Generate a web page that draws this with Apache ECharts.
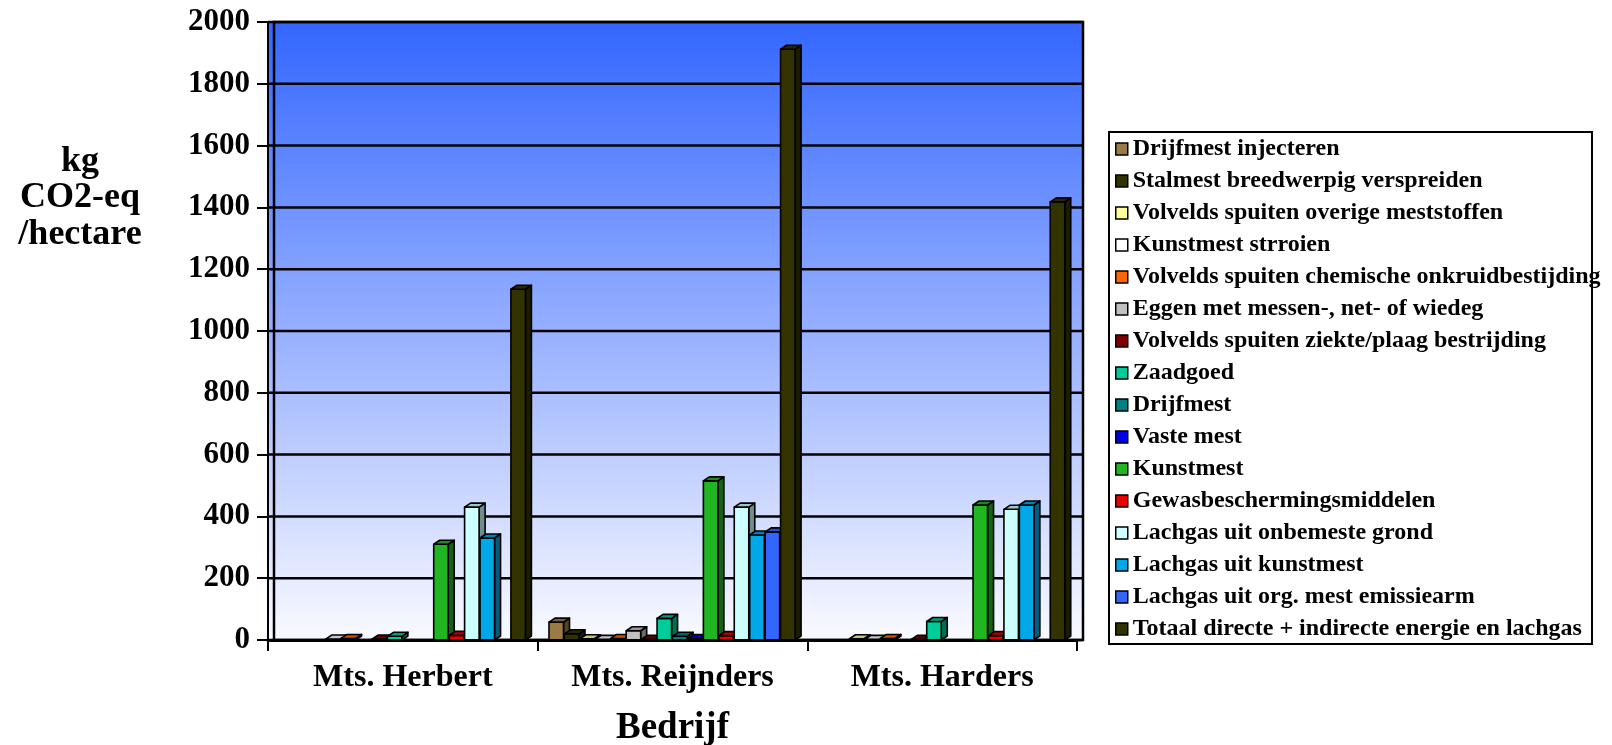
<!DOCTYPE html>
<html>
<head>
<meta charset="utf-8">
<script src="https://cdn.jsdelivr.net/npm/echarts@6/dist/echarts.min.js"></script>
<style>
  html, body { margin: 0; padding: 0; background: #ffffff; }
  #chart { width: 1612px; height: 745px; }
</style>
</head>
<body>
<div id="chart"></div>
<script>
// Farms on the category axis
const categories = ['Mts. Herbert', 'Mts. Reijnders', 'Mts. Harders'];

// Emission items (legend order = drawing order inside each farm)
const seriesNames = [
  'Drijfmest injecteren',
  'Stalmest breedwerpig verspreiden',
  'Volvelds spuiten overige meststoffen',
  'Kunstmest strroien',
  'Volvelds spuiten chemische onkruidbestijding',
  'Eggen met messen-, net- of wiedeg',
  'Volvelds spuiten ziekte/plaag bestrijding',
  'Zaadgoed',
  'Drijfmest',
  'Vaste mest',
  'Kunstmest',
  'Gewasbeschermingsmiddelen',
  'Lachgas uit onbemeste grond',
  'Lachgas uit kunstmest',
  'Lachgas uit org. mest emissiearm',
  'Totaal directe + indirecte energie en lachgas'
];

const seriesColors = [
  '#9A7A45', '#333300', '#FFFF99', '#FFFFFF', '#FF6600', '#C0C0C0',
  '#800000', '#00CC99', '#008080', '#0000EE', '#21B521', '#EE0000',
  '#CCFFFF', '#00A8E8', '#3366FF', '#333300'
];

// kg CO2-eq per hectare: [Herbert, Reijnders, Harders]
const drijfmestInjecteren   = [0, 58, 0];
const stalmestBreedwerpig   = [0, 20, 0];
const volveldsOverige       = [0, 4, 4];
const kunstmestStrooien     = [3, 2, 2];
const volveldsChemische     = [5, 5, 5];
const eggenWiedeg           = [0, 30, 0];
const volveldsZiekte        = [3, 2, 2];
const zaadgoed              = [12, 70, 60];
const drijfmest             = [0, 12, 0];
const vasteMest             = [0, 5, 0];
const kunstmest             = [310, 515, 437];
const gewasbescherming      = [15, 14, 14];
const lachgasOnbemeste      = [430, 430, 423];
const lachgasKunstmest      = [330, 340, 437];
const lachgasOrgMest        = [0, 350, 0];
const totaalEnergieLachgas  = [1135, 1912, 1418];

const seriesValues = [
  drijfmestInjecteren, stalmestBreedwerpig, volveldsOverige, kunstmestStrooien,
  volveldsChemische, eggenWiedeg, volveldsZiekte, zaadgoed, drijfmest, vasteMest,
  kunstmest, gewasbescherming, lachgasOnbemeste, lachgasKunstmest, lachgasOrgMest,
  totaalEnergieLachgas
];

// Value axis ticks
const yMin = 0;
const yMax = 2000;
const yInterval = 200;

const FONT = '"Liberation Serif", "Times New Roman", serif';
const N = seriesNames.length;
const SIDE_GAP = 0.042;     // empty share of a category on each side
const FRONT_RATIO = 0.94;   // front face width relative to a series slot
const BAR_DX = 6, BAR_DY = -4;   // depth of the 3D columns
const WALL_DX = 6, WALL_DY = 0;  // depth of the back wall

// Legend frame
const LEGEND_BOX = { x: 1109, y: 132, width: 483, height: 512 };

function shade(hex, f) {
  const c = echarts.color.parse(hex);
  return 'rgb(' + Math.round(c[0] * f) + ',' + Math.round(c[1] * f) + ',' + Math.round(c[2] * f) + ')';
}

// Back wall, side wall, floor and gridlines
function renderWall(params, api) {
  const band = api.size([1, 0])[0];
  const left = api.coord([0, 0])[0] - band / 2;
  const right = api.coord([categories.length - 1, 0])[0] + band / 2;
  const yBottom = api.coord([0, yMin])[1];
  const yTop = api.coord([0, yMax])[1];
  const grad = new echarts.graphic.LinearGradient(0, 0, 0, 1, [
    { offset: 0, color: '#3366FF' },
    { offset: 1, color: '#FAFAFF' }
  ]);
  const children = [];
  // side wall
  children.push({
    type: 'polygon',
    shape: { points: [[left, yTop], [left + WALL_DX, yTop + WALL_DY], [left + WALL_DX, yBottom + WALL_DY], [left, yBottom]] },
    style: { fill: grad, stroke: '#000', lineWidth: 1.5 }
  });
  // back wall
  children.push({
    type: 'rect',
    shape: { x: left + WALL_DX, y: yTop + WALL_DY, width: right - left, height: yBottom - yTop },
    style: { fill: grad, stroke: '#000', lineWidth: 2.5 }
  });
  // gridlines
  for (let v = yMin; v <= yMax; v += yInterval) {
    const y = api.coord([0, v])[1];
    children.push({
      type: 'polyline',
      shape: { points: [[left, y], [left + WALL_DX, y + WALL_DY], [right + WALL_DX, y + WALL_DY]] },
      style: { stroke: '#000', lineWidth: 2.5, fill: null }
    });
  }
  // floor
  children.push({
    type: 'polygon',
    shape: { points: [[left, yBottom], [right, yBottom], [right + WALL_DX, yBottom + WALL_DY], [left + WALL_DX, yBottom + WALL_DY]] },
    style: { fill: '#FFFFFF', stroke: '#000', lineWidth: 2 }
  });
  return { type: 'group', children: children };
}

function makeBarRenderer(si, color) {
  const topColor = shade(color, 0.78);
  const sideColor = shade(color, 0.55);
  return function (params, api) {
    const cat = api.value(0);
    const val = api.value(1);
    if (!val) return null;
    const band = api.size([1, 0])[0];
    const base = api.coord([cat, 0]);
    const top = api.coord([cat, val]);
    const slot = band * (1 - 2 * SIDE_GAP) / N;
    const x0 = base[0] - band / 2 + band * SIDE_GAP + si * slot;
    const w = slot * FRONT_RATIO;
    const yb = base[1];
    const yt = top[1];
    const stroke = { stroke: '#000', lineWidth: 1.6, lineJoin: 'round' };
    return {
      type: 'group',
      children: [
        {
          type: 'polygon',
          shape: { points: [[x0 + w, yt], [x0 + w + BAR_DX, yt + BAR_DY], [x0 + w + BAR_DX, yb + BAR_DY], [x0 + w, yb]] },
          style: Object.assign({ fill: sideColor }, stroke)
        },
        {
          type: 'rect',
          shape: { x: x0, y: yt, width: w, height: yb - yt },
          style: Object.assign({ fill: color }, stroke)
        },
        {
          type: 'polygon',
          shape: { points: [[x0, yt], [x0 + w, yt], [x0 + w + BAR_DX, yt + BAR_DY], [x0 + BAR_DX, yt + BAR_DY]] },
          style: Object.assign({ fill: topColor }, stroke)
        }
      ]
    };
  };
}

const series = [{
  name: 'wall',
  type: 'custom',
  silent: true,
  z: 1,
  renderItem: renderWall,
  data: [[0, 0]]
}];

seriesNames.forEach(function (name, si) {
  series.push({
    name: name,
    type: 'custom',
    z: 2,
    itemStyle: { color: seriesColors[si] },
    renderItem: makeBarRenderer(si, seriesColors[si]),
    data: seriesValues[si].map(function (v, ci) { return [ci, v]; })
  });
});

const chart = echarts.init(document.getElementById('chart'), null, { renderer: 'canvas' });
chart.setOption({
  animation: false,
  backgroundColor: '#FFFFFF',
  textStyle: { fontFamily: FONT },
  grid: { left: 268, right: 535, top: 22, bottom: 105, containLabel: false, outerBoundsMode: 'none' },
  graphic: [
    {
      type: 'text',
      x: 80,
      y: 143,
      style: {
        text: 'kg\nCO2-eq\n/hectare',
        fontFamily: FONT,
        fontWeight: 'bold',
        fontSize: 36,
        lineHeight: 36.5,
        fill: '#000',
        align: 'center'
      }
    },
    {
      type: 'rect',
      z: 100,
      silent: true,
      shape: LEGEND_BOX,
      style: { fill: null, stroke: '#000', lineWidth: 2 }
    }
  ],
  xAxis: {
    type: 'category',
    data: categories,
    z: 10,
    name: 'Bedrijf',
    nameLocation: 'middle',
    nameGap: 70,
    nameTextStyle: { fontFamily: FONT, fontWeight: 'bold', fontSize: 37, color: '#000' },
    axisLine: { lineStyle: { color: '#000', width: 3 } },
    axisTick: { show: true, interval: 0, length: 11, lineStyle: { color: '#000', width: 2 } },
    axisLabel: { fontFamily: FONT, fontWeight: 'bold', fontSize: 32, color: '#000', margin: 22 },
    splitLine: { show: false }
  },
  yAxis: {
    type: 'value',
    min: yMin,
    max: yMax,
    interval: yInterval,
    z: 10,
    axisLine: { show: true, lineStyle: { color: '#000', width: 2 } },
    axisTick: { show: true, length: 11, lineStyle: { color: '#000', width: 2 } },
    axisLabel: {
      fontFamily: FONT, fontWeight: 'bold', fontSize: 31, color: '#000', margin: 18,
      padding: [7, 0, 0, 0],
      formatter: function (v) { return String(v); }
    },
    splitLine: { show: false }
  },
  legend: {
    orient: 'vertical',
    left: LEGEND_BOX.x,
    top: LEGEND_BOX.y,
    data: seriesNames,
    icon: 'rect',
    itemWidth: 12,
    itemHeight: 12,
    itemGap: 8,
    padding: [5, 6, 4, 6],
    borderWidth: 0,
    itemStyle: { borderColor: '#000', borderWidth: 1.5 },
    textStyle: { fontFamily: FONT, fontWeight: 'bold', fontSize: 24, lineHeight: 24, color: '#000' },
    selectedMode: false
  },
  series: series
});
</script>
</body>
</html>
